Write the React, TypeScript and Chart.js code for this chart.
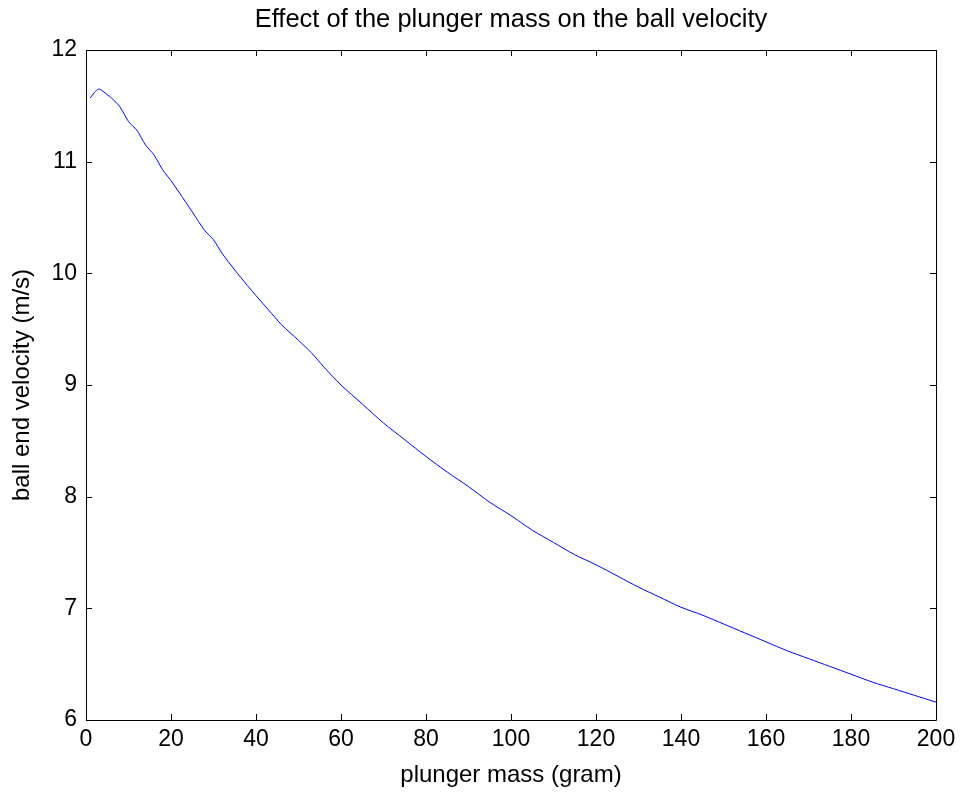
import React, { useEffect, useRef } from "react";
import { Chart, registerables } from "chart.js";

Chart.register(...registerables);

const masses = [1, 2, 3, 4, 5, 6, 8, 10, 12, 14, 16, 18, 20, 22, 25, 28, 30, 32, 35, 38, 40, 43, 46, 50, 53, 56, 60, 65, 70, 75, 80, 85, 90, 95, 100, 105, 110, 115, 120, 125, 130, 135, 140, 145, 150, 155, 160, 165, 170, 175, 180, 185, 190, 195, 200];
const velocities = [11.57, 11.62, 11.65, 11.63, 11.6, 11.57, 11.49, 11.36, 11.28, 11.15, 11.06, 10.93, 10.83, 10.72, 10.55, 10.38, 10.3, 10.18, 10.03, 9.89, 9.8, 9.67, 9.54, 9.4, 9.29, 9.16, 9.0, 8.83, 8.66, 8.51, 8.36, 8.22, 8.09, 7.95, 7.83, 7.7, 7.59, 7.48, 7.39, 7.29, 7.19, 7.1, 7.01, 6.94, 6.86, 6.78, 6.7, 6.62, 6.55, 6.48, 6.41, 6.34, 6.28, 6.22, 6.16];
const xTicks = [0, 20, 40, 60, 80, 100, 120, 140, 160, 180, 200];
const yTicks = [6, 7, 8, 9, 10, 11, 12];

const FONT = "'Liberation Sans', Arial, sans-serif";

const centerTitle = {
  id: "centerTitle",
  afterLayout(chart: any) {
    const t = chart.titleBlock;
    if (t) {
      t.left = chart.chartArea.left;
      t.right = chart.chartArea.right;
      t.width = t.right - t.left;
    }
  },
};

const boxTicks = {
  id: "boxTicks",
  afterDraw(chart: any) {
    const { ctx, chartArea } = chart;
    const { left, right, top, bottom } = chartArea;
    const xs = chart.scales.x;
    const ys = chart.scales.y;
    const L = 6;
    ctx.save();
    ctx.strokeStyle = "#000";
    ctx.lineWidth = 1;
    ctx.beginPath();
    ctx.rect(Math.round(left) + 0.5, Math.round(top) + 0.5, Math.round(right - left), Math.round(bottom - top));
    for (const t of xTicks) {
      const px = Math.round(xs.getPixelForValue(t)) + 0.5;
      ctx.moveTo(px, bottom);
      ctx.lineTo(px, bottom - L);
      ctx.moveTo(px, top);
      ctx.lineTo(px, top + L);
    }
    for (const t of yTicks) {
      const py = Math.round(ys.getPixelForValue(t)) + 0.5;
      ctx.moveTo(left, py);
      ctx.lineTo(left + L, py);
      ctx.moveTo(right, py);
      ctx.lineTo(right - L, py);
    }
    ctx.stroke();
    ctx.restore();
  },
};

export default function App() {
  const ref = useRef<HTMLCanvasElement>(null);
  useEffect(() => {
    document.body.style.margin = "0";
    const chart = new Chart(ref.current as HTMLCanvasElement, {
      type: "line",
      data: {
        datasets: [
          {
            data: masses.map((m, i) => ({ x: m, y: velocities[i] })),
            borderColor: "#0000ff",
            borderWidth: 1,
            pointRadius: 0,
            tension: 0.3,
            fill: false,
          },
        ],
      },
      options: {
        animation: false,
        responsive: false,
        layout: { padding: { left: 0, right: 27, top: 0, bottom: 0 } },
        plugins: {
          legend: { display: false },
          tooltip: { enabled: false },
          title: {
            display: true,
            text: "Effect of the plunger mass on the ball velocity",
            color: "#000",
            font: { family: FONT, size: 25.5, weight: "normal", lineHeight: 1.2 },
            padding: { top: 5, bottom: 14.4 },
          },
        },
        scales: {
          x: {
            type: "linear",
            min: 0,
            max: 200,
            afterBuildTicks: (s: any) => {
              s.ticks = xTicks.map((v) => ({ value: v }));
            },
            afterFit: (s: any) => {
              s.height = 72;
            },
            grid: { display: false, drawTicks: false },
            border: { display: false },
            ticks: { color: "#000", font: { family: FONT, size: 23 }, padding: 6, maxRotation: 0, autoSkip: false },
            title: {
              display: true,
              text: "plunger mass (gram)",
              color: "#000",
              font: { family: FONT, size: 24, lineHeight: 1.2 },
              padding: { top: 0, bottom: 2.6 },
            },
          },
          y: {
            type: "linear",
            min: 6,
            max: 12,
            afterBuildTicks: (s: any) => {
              s.ticks = yTicks.map((v) => ({ value: v }));
            },
            afterFit: (s: any) => {
              s.width = 86;
            },
            grid: { display: false, drawTicks: false },
            border: { display: false },
            ticks: { color: "#000", font: { family: FONT, size: 23 }, padding: 9, autoSkip: false },
            title: {
              display: true,
              text: "ball end velocity (m/s)",
              color: "#000",
              font: { family: FONT, size: 24, lineHeight: 1.2 },
              padding: { top: 8, bottom: 0 },
            },
          },
        },
      },
      plugins: [centerTitle, boxTicks],
    } as any);
    return () => chart.destroy();
  }, []);
  return <canvas ref={ref} width={963} height={792} style={{ display: "block" }} />;
}
